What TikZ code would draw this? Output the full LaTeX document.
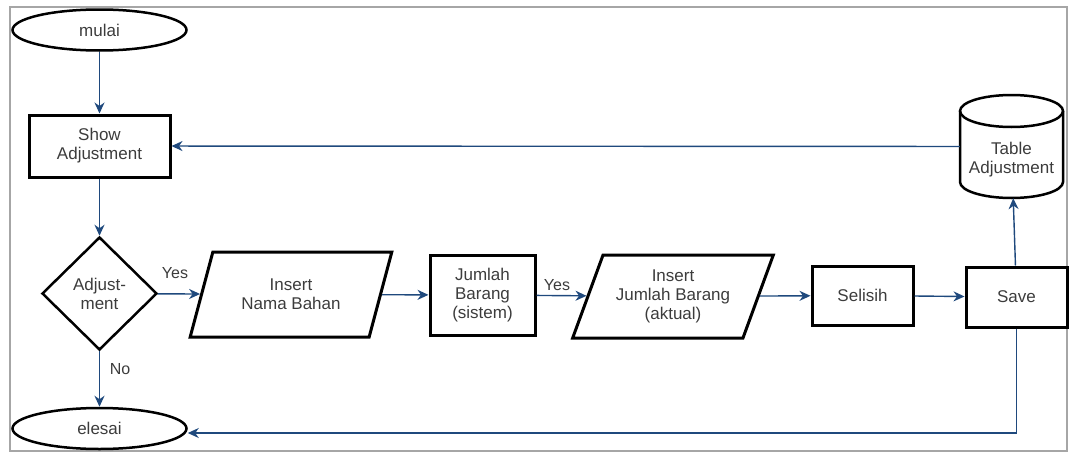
\documentclass[tikz,border=0pt]{standalone}
\usepackage{fontspec}
\setmainfont{Liberation Sans}
\usetikzlibrary{shapes.geometric,arrows.meta}
\definecolor{flowblue}{RGB}{31,73,125}
\definecolor{ink}{RGB}{60,60,60}
\begin{document}
\begin{tikzpicture}[x=1pt,y=-1pt,
  every node/.style={font=\fontsize{17}{19}\selectfont, text=ink, align=center, inner sep=0pt},
  terminal/.style={draw=black, line width=2.5pt, ellipse, minimum width=174pt, minimum height=41pt},
  process/.style={draw=black, line width=3pt, rectangle},
  decision/.style={draw=black, line width=2.5pt, diamond, aspect=1, minimum width=115pt, minimum height=113pt},
  io/.style={draw=black, line width=3pt, trapezium, trapezium left angle=65, trapezium right angle=115,
             trapezium stretches=true, minimum width=202pt, minimum height=85pt},
  link/.style={draw=flowblue, line width=1.4pt, -{Stealth[length=11pt,width=10pt,inset=3.5pt]}},
  lbl/.style={font=\fontsize{16}{19}\selectfont}
]
\useasboundingbox (0,0) rectangle (1070,455);

% outer frame
\draw[gray!70, line width=1.8pt] (10,7) rectangle (1067,451);

% database cylinder
\draw[line width=2.5pt, fill=white] (960,111) -- (960,182)
  arc[start angle=180, end angle=0, x radius=51.5, y radius=16] -- (1063,111);
\draw[line width=2.5pt] (1011.5,111) ellipse [x radius=51.5, y radius=16];

% nodes
\node[terminal] (start) at (99.5,30) {mulai};
\node[process, minimum width=141pt, minimum height=62pt] (show) at (99.5,146) {Show\\Adjustment};
\node[decision] (dec) at (99.5,293.5) {Adjust-\\ment};
\node[io] (nama) at (291,294.5) {Insert\\Nama Bahan};
\node[process, minimum width=105pt, minimum height=80pt] (sis) at (482.5,295) {Jumlah\\Barang\\(sistem)};
\node[io, minimum width=201pt, minimum height=83pt] (akt) at (673,296.5) {Insert\\Jumlah Barang\\(aktual)};
\node[process, minimum width=101pt, minimum height=59pt] (sel) at (862.5,295.5) {Selisih};
\node[process, minimum width=101pt, minimum height=60pt] (save) at (1016.5,297) {Save};
\node[terminal] (end) at (99.5,428.5) {elesai};
\node[minimum width=103pt, minimum height=103pt] (tbl) at (1011.5,146.5) {};
\node (tbltext) at (1011.5,160) {Table\\Adjustment};

% edge labels
\node[lbl] (yes1) at (175,273) {Yes};
\node[lbl] (yes2) at (557,285) {Yes};
\node[lbl] (no) at (120,369) {No};

% connectors
\draw[link] (start) -- (show);
\draw[link] (show) -- (dec);
\draw[link] (dec) -- (nama);
\draw[link] (nama) -- (sis);
\draw[link] (sis) -- (akt);
\draw[link] (akt) -- (sel);
\draw[link] (sel) -- (save);
\draw[link] (save) -- (tbl);
\draw[link] (tbl) -- (show);
\draw[link] (dec) -- (end);
\coordinate (turn) at (save.south |- 0,433);
\draw[link] (save.south) -- (turn) -- (turn -| end.east);
\end{tikzpicture}
\end{document}
